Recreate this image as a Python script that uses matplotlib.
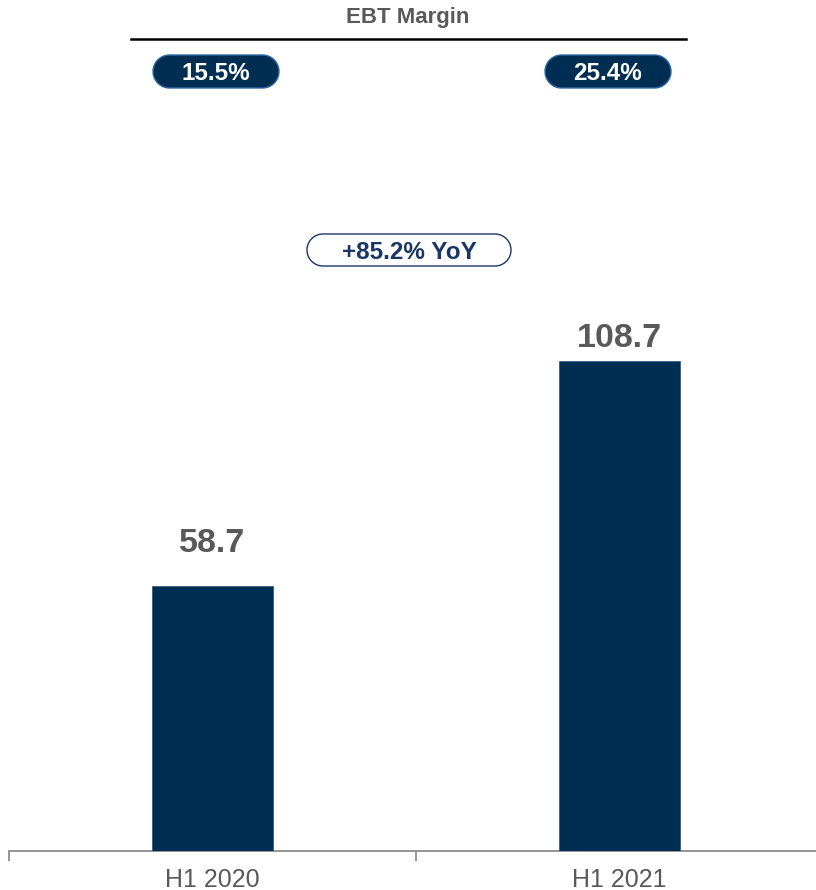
import matplotlib
matplotlib.use("Agg")
import numpy as np
import matplotlib.pyplot as plt
from matplotlib.patches import Polygon

plt.rcParams['font.family'] = ['Liberation Sans', 'DejaVu Sans']

categories = ["H1 2020", "H1 2021"]
ebt_values = [58.7, 108.7]
value_labels = ["58.7", "108.7"]
margin_labels = ["15.5%", "25.4%"]
yoy_label = "+85.2% YoY"
title = "EBT Margin"

BAR = "#002D52"
GRAY = "#595959"
NAVY_TXT = "#1B3664"

W, H = 816, 890
fig = plt.figure(figsize=(W / 100, H / 100), dpi=100)

# main axes: x from -0.5..1.5 maps to px 9..823, baseline at px 851
ax_left, ax_right = 9, 823
ax_bottom_px, ax_top_px = 851, 310
ax = fig.add_axes([ax_left / W, (H - ax_bottom_px) / H,
                   (ax_right - ax_left) / W, (ax_bottom_px - ax_top_px) / H])
x = list(range(len(categories)))
ax.bar(x, ebt_values, width=0.295, color=BAR, edgecolor="#3a5a80", linewidth=0.6, zorder=3)
ax.set_xlim(-0.5, 1.5)
ax.set_ylim(0, (ax_bottom_px - ax_top_px) / (490 / 108.7))
for s in ["top", "right", "left"]:
    ax.spines[s].set_visible(False)
ax.spines["bottom"].set_color("#8c8c8c")
ax.spines["bottom"].set_linewidth(1.3)
ax.set_yticks([])
ax.set_xticks(x)
ax.set_xticklabels(categories, fontsize=18, color=GRAY)
ax.tick_params(axis="x", which="major", length=0, pad=12)
ax.set_xticks([-0.5, 0.5, 1.5], minor=True)
ax.tick_params(axis="x", which="minor", length=7, width=1.3, color="#8c8c8c")

label_gaps = [34, 14]  # px gap between bar top and label baseline
for xi, v, lab, off in zip(x, ebt_values, value_labels, label_gaps):
    ax.annotate(lab, (xi, v), xytext=(0, off * 0.72), textcoords="offset points",
                ha="center", va="baseline", fontsize=24.5, fontweight="bold", color=GRAY)

# overlay in pixel coordinates (y measured from top, converted)
ov = fig.add_axes([0, 0, 1, 1])
ov.set_xlim(0, W)
ov.set_ylim(0, H)
ov.axis("off")

def Y(py):
    return H - py

def pill(x0, ytop, w, h, **kw):
    r = h / 2
    yc = Y(ytop + r)
    t1 = np.linspace(np.pi / 2, 3 * np.pi / 2, 40)
    t2 = np.linspace(-np.pi / 2, np.pi / 2, 40)
    left = np.column_stack([x0 + r + r * np.cos(t1), yc + r * np.sin(t1)])
    right = np.column_stack([x0 + w - r + r * np.cos(t2), yc + r * np.sin(t2)])
    ov.add_patch(Polygon(np.vstack([left, right]), closed=True, **kw))
    return x0 + w / 2, yc

ov.text(408, Y(18), title, ha="center", va="center", fontsize=16, fontweight="bold", color=GRAY)
ov.plot([131, 686], [Y(39), Y(39)], color="black", lw=1.8)

pill_boxes = [(153, 55, 126, 33), (545, 55, 126, 33)]
for (px, py, pw, ph), lab in zip(pill_boxes, margin_labels):
    cx, cy = pill(px, py, pw, ph, facecolor=BAR, edgecolor="#2f6aa8", linewidth=1.0)
    ov.text(cx, cy, lab, ha="center", va="center_baseline",
            fontsize=17.5, fontweight="bold", color="white")

cx, cy = pill(307, 234, 204, 32, facecolor="white", edgecolor="#1B3664", linewidth=1.0)
ov.text(cx, cy, yoy_label, ha="center", va="center_baseline",
        fontsize=17.5, fontweight="bold", color=NAVY_TXT)

fig.savefig("out.png", dpi=100)
